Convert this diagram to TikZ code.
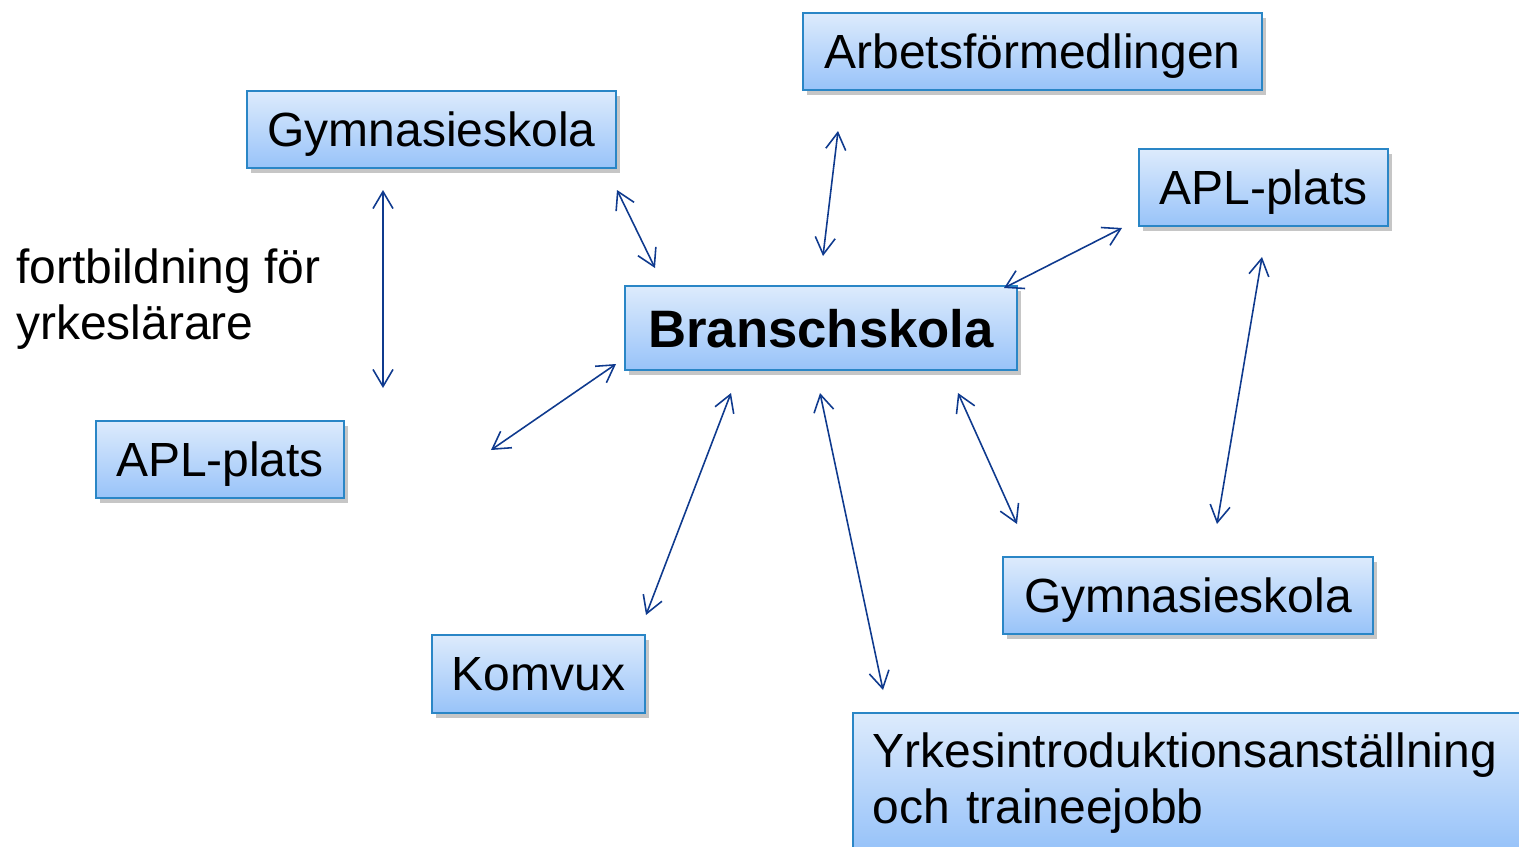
\documentclass[tikz,border=0pt]{standalone}
\usepackage{fontspec}
\setmainfont{Liberation Sans}
\usepackage{xcolor}
\definecolor{colorBoxTop}{HTML}{DDEBFC}
\definecolor{colorBoxBottom}{HTML}{98C3F9}
\definecolor{colorBoxBorder}{HTML}{2A86C6}
\definecolor{colorLink}{HTML}{0F3A8E}
\usetikzlibrary{arrows.meta, shadows}
\tikzset{box/.style={draw=colorBoxBorder, line width=1.1pt, top color=colorBoxTop, bottom color=colorBoxBottom, drop shadow={shadow xshift=2.5pt, shadow yshift=-3pt, opacity=0.45}, font=\fontsize{27.3}{32}\selectfont, inner sep=0pt, text depth=0pt}}
\tikzset{link/.style={{Straight Barb[length=3.4mm,width=4mm]}-{Straight Barb[length=3.4mm,width=4mm]}, colorLink, line width=0.9pt}}

\begin{document}
\begin{tikzpicture}[x=0.02cm, y=-0.02cm]
\useasboundingbox (0,0) rectangle (1519,846);
\node[box, minimum width=9.18cm, minimum height=1.54cm] (arb) at (1032.5,51.5) {Arbetsförmedlingen};
\node[box, minimum width=7.38cm, minimum height=1.54cm] (gym1) at (431.5,129.5) {Gymnasieskola};
\node[box, minimum width=4.98cm, minimum height=1.54cm] (apl1) at (1263.5,187.5) {APL-plats};
\node[box, minimum width=7.84cm, minimum height=1.68cm, font=\fontsize{30}{36}\selectfont\bfseries] (bra) at (821,328) {Branschskola};
\node[box, minimum width=4.96cm, minimum height=1.54cm] (apl2) at (220,459.5) {APL-plats};
\node[box, minimum width=7.40cm, minimum height=1.54cm] (gym2) at (1188,595.5) {Gymnasieskola};
\node[box, minimum width=4.26cm, minimum height=1.56cm] (kom) at (538.5,674) {Komvux};
\node[box, anchor=north west, align=left, text width=13.3cm, inner xsep=0.4cm, inner ysep=0.4cm, text depth=1.2cm] (yrk) at (852,712) {Yrkesintroduktionsanställning\\och traineejobb};
\node[anchor=west, align=left, inner sep=0pt, font=\fontsize{27.3}{32}\selectfont] (fort) at (16,299) {fortbildning för\\yrkeslärare};

\coordinate (a1) at (383,190); \coordinate (b1) at (383,388);
\coordinate (a2) at (617,190); \coordinate (b2) at (655,268);
\coordinate (a3) at (838,131); \coordinate (b3) at (823,256);
\coordinate (a4) at (1122,228); \coordinate (b4) at (1004,288);
\coordinate (a5) at (1262,257); \coordinate (b5) at (1217,524);
\coordinate (a6) at (616,364); \coordinate (b6) at (491,450);
\coordinate (a7) at (731,393); \coordinate (b7) at (646,615);
\coordinate (a8) at (820,393); \coordinate (b8) at (883,690);
\coordinate (a9) at (958,393); \coordinate (b9) at (1017,524);
\foreach \i in {1,...,9}
  \draw[link] (a\i) -- (b\i);
\end{tikzpicture}
\end{document}
